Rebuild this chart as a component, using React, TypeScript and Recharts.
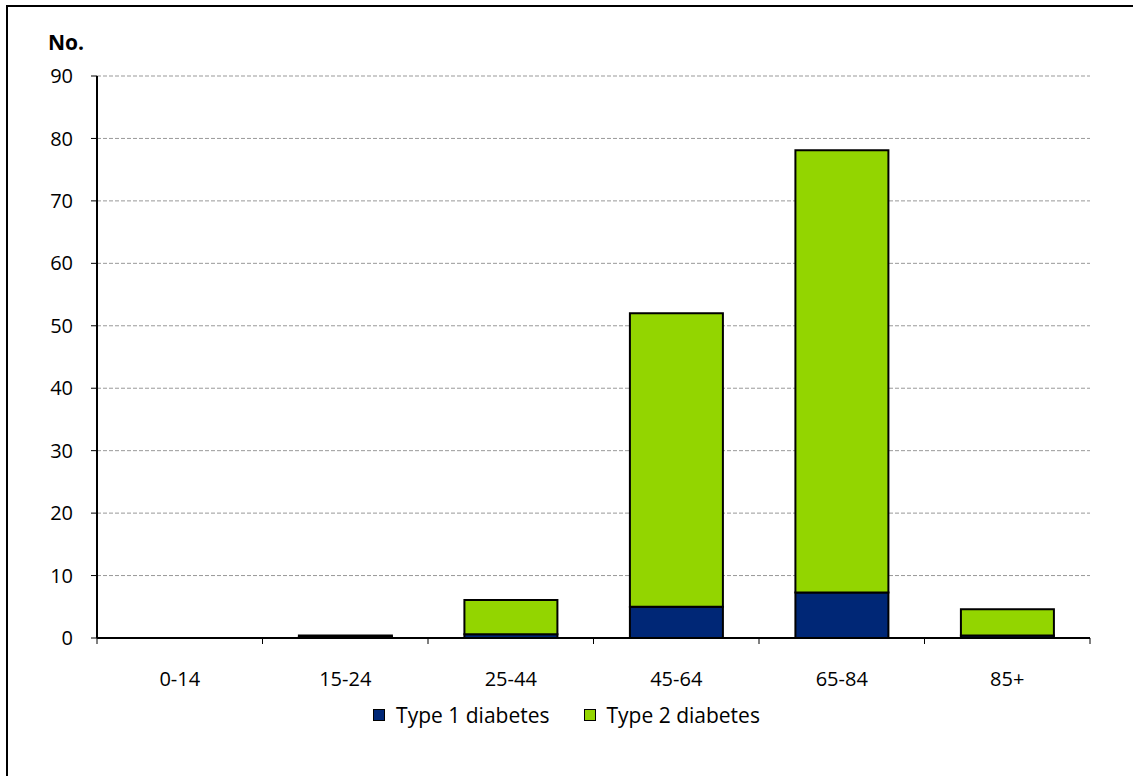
import { BarChart, Bar, XAxis, YAxis, CartesianGrid } from "recharts"

const ageGroups = ["0-14", "15-24", "25-44", "45-64", "65-84", "85+"]
const type1 = [0, 0.2, 0.6, 5.0, 7.3, 0.4]
const type2 = [0, 0.2, 5.5, 47.0, 70.8, 4.2]
const yTicks = [0, 10, 20, 30, 40, 50, 60, 70, 80, 90]

const series = [
  { key: "type1", name: "Type 1 diabetes", color: "#002776" },
  { key: "type2", name: "Type 2 diabetes", color: "#93d500" },
]

const data = ageGroups.map((g, i) => ({ group: g, type1: type1[i], type2: type2[i] }))

const font = "'Open Sans', sans-serif"
const X_MARGIN = 34

// category label plus small tick marks on the band edges
function GroupTick(props: any) {
  const { x, y, payload, index, width } = props
  const half = payload.offset || width / ageGroups.length / 2
  const axisY = y - X_MARGIN
  return (
    <g>
      <line x1={x - half} x2={x - half} y1={axisY} y2={axisY + 6} stroke="#000" />
      {index === ageGroups.length - 1 && (
        <line x1={x + half} x2={x + half} y1={axisY} y2={axisY + 6} stroke="#000" />
      )}
      <text x={x} y={y} dy="0.71em" textAnchor="middle" fill="#000" fontSize={20} fontFamily={font}>
        {payload.value}
      </text>
    </g>
  )
}

export default function App() {
  return (
    <div style={{ position: "absolute", left: 0, top: 0, width: 1133, height: 776, overflow: "hidden", background: "#fff", fontFamily: font }}>
      <div style={{ position: "absolute", left: 6, top: 5, width: 1127, height: 771, boxSizing: "border-box", borderLeft: "2px solid #000", borderTop: "2px solid #000" }} />
      <div style={{ position: "absolute", left: 48, top: 28, fontSize: 21, fontWeight: 700 }}>No.</div>
      <div style={{ position: "absolute", left: 0, top: 0 }}>
        <BarChart
          width={1133}
          height={776}
          data={data}
          margin={{ top: 76, right: 43, bottom: 98, left: 37 }}
          barCategoryGap="22%"
        >
          <CartesianGrid vertical={false} stroke="#999" strokeDasharray="4 2" />
          <XAxis dataKey="group" axisLine={{ stroke: "#000", strokeWidth: 2 }} tickLine={false} tickSize={0}
            tickMargin={X_MARGIN} height={40} tick={<GroupTick />} interval={0} />
          <YAxis domain={[0, 90]} ticks={yTicks} width={60} tickSize={6} tickMargin={18}
            axisLine={{ stroke: "#000", strokeWidth: 2 }} tickLine={{ stroke: "#000" }}
            tick={{ fill: "#000", fontSize: 20, fontFamily: font }} />
          <YAxis yAxisId="r" orientation="right" width={0} domain={[0, 90]} tick={false} tickLine={false}
            axisLine={{ stroke: "#bbb" }} />
          {series.map((s) => (
            <Bar key={s.key} dataKey={s.key} name={s.name} stackId="a" fill={s.color}
              stroke="#000" strokeWidth={2} isAnimationActive={false} />
          ))}
        </BarChart>
      </div>
      <div style={{ position: "absolute", top: 701, left: 0, width: 1133, display: "flex", justifyContent: "center", gap: 34, fontSize: 21 }}>
        {series.map((s) => (
          <div key={s.key} style={{ display: "flex", alignItems: "center", gap: 11 }}>
            <span style={{ width: 10, height: 10, background: s.color, border: "1.5px solid #000", display: "inline-block" }} />
            <span>{s.name}</span>
          </div>
        ))}
      </div>
    </div>
  )
}
